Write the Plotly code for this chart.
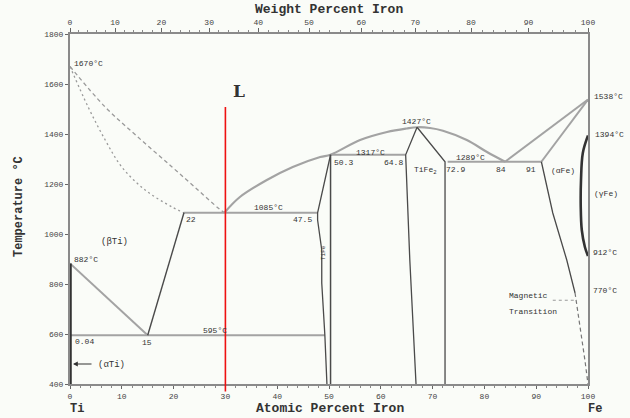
import plotly.graph_objects as go

# ---------------- data (atomic % Fe, temperature °C) ----------------
y_ticks = [400, 600, 800, 1000, 1200, 1400, 1600, 1800]
at_ticks = [0, 10, 20, 30, 40, 50, 60, 70, 80, 90, 100]
wt_ticks = [0, 10, 20, 30, 40, 50, 60, 70, 80, 90, 100]

liq_ti_x = [0, 6.8, 13.1, 19.7, 24.7, 28.6, 29.8]
liq_ti_T = [1670, 1508, 1388, 1268, 1176, 1104, 1085]
sol_ti_x = [0, 3.5, 6.8, 10.0, 14.5, 19.7, 22]
sol_ti_T = [1670, 1508, 1376, 1268, 1176, 1108, 1085]

liq_mid_x = [29.8, 32.8, 38.0, 43.0, 48.3, 50.3, 56.0, 61.2, 65.0, 67.0, 69.5, 72.0, 76.6, 80.5, 84.0]
liq_mid_T = [1085, 1148, 1216, 1268, 1308, 1317, 1376, 1408, 1422, 1427, 1424, 1413, 1376, 1328, 1289]

liq_fe_x = [84, 100]
liq_fe_T = [1289, 1538]
sol_fe_x = [91, 100]
sol_fe_T = [1289, 1538]

eut1085_x = [22, 47.8]
eut1085_T = [1085, 1085]
per1317_x = [50.3, 64.8]
per1317_T = [1317, 1317]
eut1289_x = [72.9, 91]
eut1289_T = [1289, 1289]
eutd595_x = [0, 49.2]
eutd595_T = [595, 595]

beta_solvus_x = [0, 15]
beta_solvus_T = [882, 595]
beta_sol_x = [15, 22]
beta_sol_T = [595, 1085]
alpha_ti_x = [0.1, 0.1]
alpha_ti_T = [882, 400]

tife_left_x = [50.3, 47.8, 47.8, 48.6, 48.6, 49.2, 49.6]
tife_left_T = [1317, 1085, 1056, 936, 804, 595, 400]
tife_right_x = [50.3, 50.3]
tife_right_T = [1317, 400]

tife2_left_x = [67.0, 64.8, 65.6, 66.8]
tife2_left_T = [1427, 1317, 896, 400]
tife2_right_x = [67.0, 72.4, 72.4]
tife2_right_T = [1427, 1289, 400]

afe_solid_x = [91, 93.2, 95.9, 97.5]
afe_solid_T = [1289, 1084, 896, 764]
afe_dash_x = [97.5, 97.8, 98.5, 99.4, 100]
afe_dash_T = [764, 724, 616, 496, 400]

gamma_x = [100, 99.0, 98.65, 98.6, 98.8, 99.4, 100]
gamma_T = [1394, 1324, 1216, 1108, 1016, 948, 912]

magn_x = [93.2, 97.3]
magn_T = [735, 735]

red_x = 30
red_T_top = 1508
red_T_bottom = 370

T_MIN, T_MAX = 400, 1800
M_FE, M_TI = 55.845, 47.867


def wt_to_at(w):
    a = w / M_FE
    b = (100 - w) / M_TI
    return 100 * a / (a + b)


# ---------------- figure ----------------
W, H = 630, 418
L, R, T, B = 70, 42, 34, 34
PW, PH = W - L - R, H - T - B

fig = go.Figure()

LIGHT = "#a3a3a3"
DARK = "#4a4a4a"


def line(x, y, color=DARK, width=1.3, dash="solid", shape="linear"):
    fig.add_trace(go.Scatter(x=x, y=y, mode="lines", hoverinfo="skip",
                             line=dict(color=color, width=width, dash=dash, shape=shape),
                             showlegend=False))


line(liq_ti_x, liq_ti_T, color="#9a9a9a", width=1.3, dash="4px,3px", shape="spline")
line(sol_ti_x, sol_ti_T, color="#9a9a9a", width=1.3, dash="2px,3px", shape="spline")
line(liq_mid_x, liq_mid_T, color=LIGHT, width=2.2, shape="spline")
line(liq_fe_x, liq_fe_T, color=LIGHT, width=2)
line(sol_fe_x, sol_fe_T, color=LIGHT, width=2)
line(eut1085_x, eut1085_T, color=LIGHT, width=2.2)
line(per1317_x, per1317_T, color=LIGHT, width=2)
line(eut1289_x, eut1289_T, color=LIGHT, width=2)
line(eutd595_x, eutd595_T, color=LIGHT, width=2.2)
line(beta_solvus_x, beta_solvus_T, color=LIGHT, width=2)
line(beta_sol_x, beta_sol_T, color=DARK, width=1.4)
line(alpha_ti_x, alpha_ti_T, color="#333333", width=2.5)
line(tife_left_x, tife_left_T, color=DARK, width=1.3)
line(tife_right_x, tife_right_T, color=DARK, width=1.5)
line(tife2_left_x, tife2_left_T, color=DARK, width=1.3)
line(tife2_right_x, tife2_right_T, color=DARK, width=1.3)
line(afe_solid_x, afe_solid_T, color=DARK, width=1.3)
line(afe_dash_x, afe_dash_T, color="#777777", width=1.2, dash="4px,3px")
line(gamma_x, gamma_T, color="#333333", width=2.6, shape="spline")
line(magn_x, magn_T, color="#999999", width=1.1, dash="3px,3px")

# invisible trace on top axis so that xaxis2 is drawn
fig.add_trace(go.Scatter(x=[0], y=[T_MIN], xaxis="x2", mode="markers",
                         marker=dict(opacity=0), hoverinfo="skip", showlegend=False))

# red marker line
fig.add_shape(type="line", xref="x", yref="paper", x0=red_x, x1=red_x,
              y0=(red_T_bottom - T_MIN) / (T_MAX - T_MIN),
              y1=(red_T_top - T_MIN) / (T_MAX - T_MIN),
              line=dict(color="#ee1111", width=1.6), layer="above")

MONO = "Liberation Mono, DejaVu Sans Mono, monospace"


def lab(text, px, py, size=8, anchor="center", color="#333333", angle=0, family=MONO):
    """px, py are pixel positions of the label in the figure."""
    fig.add_annotation(text=text, xref="paper", yref="paper",
                       x=(px - L) / PW, y=(H - B - py) / PH,
                       xanchor=anchor, yanchor="middle", showarrow=False,
                       textangle=angle, font=dict(size=size, color=color, family=family))


lab("<b>Weight Percent Iron</b>", 329, 9, size=13)
lab("<b>Atomic Percent Iron</b>", 330, 408, size=13)
lab("<b>Temperature °C</b>", 19, 207, size=12, angle=-90)
lab("<b>Ti</b>", 77, 409, size=12)
lab("<b>Fe</b>", 595, 409, size=12)
lab("<b>L</b>", 239, 91, size=17, family="DejaVu Serif, serif")

lab("1670°C", 72, 63, anchor="left")
lab("1085°C", 268, 207)
lab("22", 191, 220)
lab("47.5", 302, 220)
lab("(βTi)", 114, 242, size=9)
lab("882°C", 72, 259, anchor="left")
lab("595°C", 215, 330)
lab("0.04", 84, 341)
lab("15", 147, 342)
lab("(αTi)", 111, 365, size=9)
lab("TiFe", 324, 253, size=6, angle=-90)
lab("50.3", 343, 162)
lab("1317°C", 370, 152)
lab("64.8", 393, 162)
lab("1427°C", 416, 121)
lab("TiFe<sub>2</sub>", 425, 170, size=8)
lab("72.9", 455, 169)
lab("1289°C", 470, 157)
lab("84", 501, 169)
lab("91", 531, 169)
lab("(αFe)", 563, 170)
lab("1538°C", 592, 96, anchor="left")
lab("1394°C", 593, 134, anchor="left")
lab("(γFe)", 592, 193, anchor="left")
lab("912°C", 591, 253, anchor="left")
lab("770°C", 591, 290, anchor="left")
lab("Magnetic", 507, 295, size=8, anchor="left")
lab("Transition", 507, 311, size=8, anchor="left")

# arrow for (alpha Ti)
fig.add_annotation(xref="paper", yref="paper",
                   x=(73 - L) / PW, y=(H - B - 364) / PH,
                   ax=20, ay=0, text="", showarrow=True,
                   arrowhead=2, arrowsize=0.8, arrowwidth=1.2, arrowcolor="#333333")

axis_common = dict(showgrid=False, zeroline=False, showline=True, linecolor="#8a8a8a",
                   linewidth=2, tickcolor="#666666", tickfont=dict(size=8, color="#444444", family=MONO))

fig.update_layout(
    width=W, height=H,
    margin=dict(l=L, r=R, t=T, b=B),
    paper_bgcolor="#fafcf8", plot_bgcolor="#fafcf8",
    hovermode=False,
    xaxis=dict(range=[0, 100], tickvals=at_ticks, ticks="outside", ticklen=3,
               minor=dict(dtick=2, ticks="outside", ticklen=2, tickcolor="#888888"),
               **axis_common),
    xaxis2=dict(range=[0, 100], overlaying="x", side="top",
                tickvals=[wt_to_at(w) for w in wt_ticks], ticktext=[str(w) for w in wt_ticks],
                ticks="outside", ticklen=4,
                minor=dict(tickvals=[wt_to_at(w) for w in range(0, 101, 2)], ticks="outside",
                           ticklen=2, tickcolor="#888888"),
                **axis_common),
    yaxis=dict(range=[T_MIN, T_MAX], tickvals=y_ticks, ticks="outside", ticklen=3,
               mirror=True, **axis_common),
)

# remove the default 8px page margin so the 630x418 figure fills the window exactly
fig.write_html("out.html",
               config={"displayModeBar": False, "staticPlot": True},
               post_script="document.body.style.margin='0';document.body.style.overflow='hidden';")
